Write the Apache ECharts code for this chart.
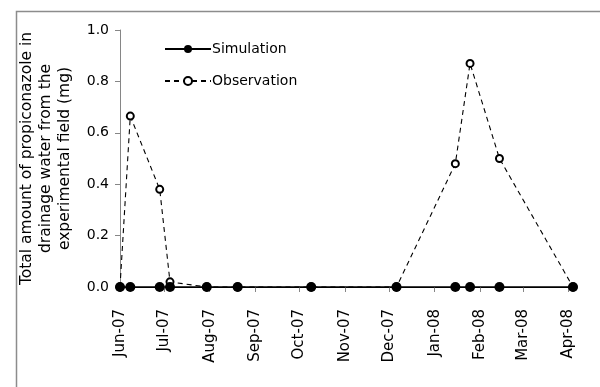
<!DOCTYPE html>
<html>
<head>
<meta charset="utf-8">
<script src="https://cdn.jsdelivr.net/npm/echarts@6/dist/echarts.min.js"></script>
<style>html,body{margin:0;padding:0;background:#fff;}#c{width:600px;height:387px;}</style>
</head>
<body>
<div id="c"></div>
<script>
// ---- data ----
var sampleDates = ['2007-06-01','2007-06-08','2007-06-28','2007-07-05','2007-07-30','2007-08-20','2007-10-09','2007-12-06','2008-01-15','2008-01-25','2008-02-14','2008-04-04'];
var simulation  = [0,0,0,0,0,0,0,0,0,0,0,0];
var observation = [0,0.665,0.38,0.02,0,0,0,0,0.48,0.87,0.5,0];
var tickDates   = ['2007-06-01','2007-07-01','2007-08-01','2007-09-01','2007-10-01','2007-11-01','2007-12-01','2008-01-01','2008-02-01','2008-03-01','2008-04-01'];
var tickLabels  = ['Jun-07','Jul-07','Aug-07','Sep-07','Oct-07','Nov-07','Dec-07','Jan-08','Feb-08','Mar-08','Apr-08'];
var yTicks      = [0, 0.2, 0.4, 0.6, 0.8, 1.0];
var axisStart = '2007-06-01', axisEnd = '2008-04-04';

// days since axisStart (UTC, no timezone drift)
function toDay(s){ var p = s.split('-'); return Math.round((Date.UTC(+p[0], +p[1]-1, +p[2]) - Date.UTC(2007,5,1)) / 86400000); }
var tickValues = tickDates.map(toDay);
function pairs(vals){ return sampleDates.map(function(d,i){ return [toDay(d), vals[i]]; }); }

var labelFont = 'DejaVu Sans, sans-serif';
var chart = echarts.init(document.getElementById('c'), null, {renderer:'canvas'});
chart.setOption({
  animation:false,
  backgroundColor:'#fff',
  graphic:[{type:'rect', left:14, top:9, shape:{width:620, height:420}, style:{fill:'none', stroke:'#8c8c8c', lineWidth:1.5}, silent:true}],
  grid:{left:120, right:27, top:30, bottom:100, containLabel:false},
  legend:{
    orient:'vertical', left:159, top:37, itemWidth:46, itemHeight:10, itemGap:18,
    data:['Simulation','Observation'],
    textStyle:{fontFamily:labelFont, fontSize:14, color:'#000', padding:[0,0,0,-4]}
  },
  xAxis:{
    type:'value', min:toDay(axisStart), max:toDay(axisEnd),
    splitLine:{show:false},
    axisLine:{lineStyle:{color:'#000', width:1}},
    axisTick:{show:true, customValues:tickValues, length:5, lineStyle:{color:'#868686'}},
    axisLabel:{customValues:tickValues, rotate:90, margin:22, fontFamily:labelFont, fontSize:15, color:'#000',
      formatter:function(v){ var i = tickValues.indexOf(Math.round(v)); return i>=0 ? tickLabels[i] : ''; }}
  },
  yAxis:{
    type:'value', min:yTicks[0], max:yTicks[yTicks.length-1], interval:0.2,
    splitLine:{show:false},
    axisLine:{show:true, lineStyle:{color:'#868686', width:1}},
    axisTick:{show:true, length:5, lineStyle:{color:'#868686'}},
    axisLabel:{fontFamily:labelFont, fontSize:14, color:'#000', margin:11, formatter:function(v){return v.toFixed(1);}},
    name:'Total amount of propiconazole in\ndrainage water from the\nexperimental field (mg)',
    nameLocation:'middle', nameRotate:90, nameGap:46,
    nameTextStyle:{fontFamily:labelFont, fontSize:15.5, color:'#000', lineHeight:19, align:'center'}
  },
  series:[
    {name:'Simulation', type:'line', data:pairs(simulation), symbol:'circle', symbolSize:10, z:3,
      lineStyle:{color:'#000', width:1.5}, itemStyle:{color:'#000'}},
    {name:'Observation', type:'line', data:pairs(observation), symbol:'emptyCircle', symbolSize:7, z:2,
      lineStyle:{color:'#000', width:1.1, type:[5,4]}, itemStyle:{color:'#000', borderColor:'#000', borderWidth:1}}
  ]
});
</script>
</body>
</html>
